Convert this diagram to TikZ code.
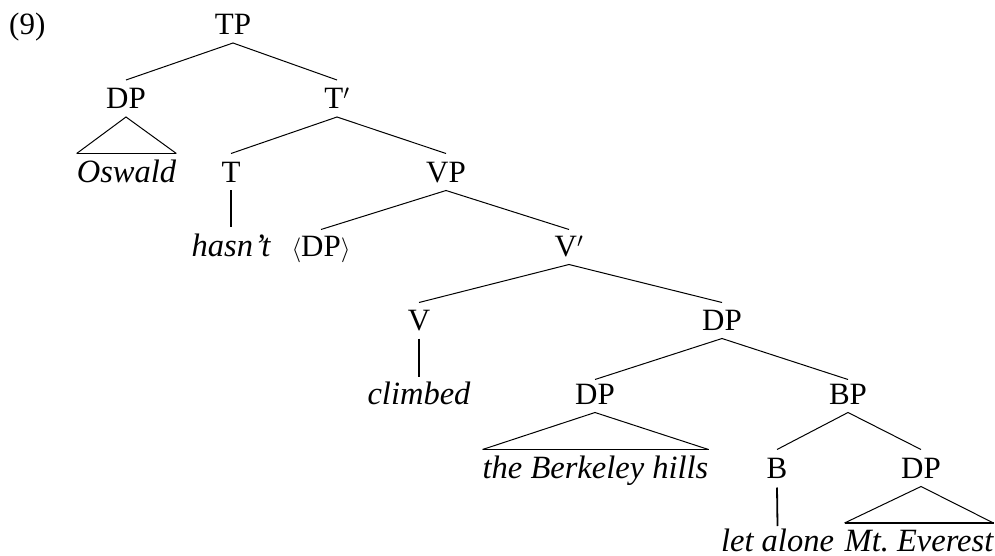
\documentclass[tikz,border=0pt]{standalone}
\usepackage{fontspec}
\setmainfont{Liberation Serif}
\begin{document}
\begin{tikzpicture}[x=1pt,y=-1pt,
  lab/.style={anchor=base,inner sep=0pt,font=\fontsize{31}{37}\selectfont},
  wd/.style={anchor=base,inner sep=0pt,font=\fontsize{32.5}{38}\selectfont\itshape},
  br/.style={line width=1pt},
  uni/.style={line width=1.8pt},
  tb/.style={line width=1.8pt}]
\useasboundingbox (0,0) rectangle (995,556);
% labels
\node[lab,anchor=base west] (ex) at (9,35) {(9)};
\node[lab] (TP) at (233,35) {TP};
\node[lab] (DPa) at (126,109) {DP};
\node[lab] (Tbar) at (337,109) {T$'$};
\node[wd] (osw) at (126.5,182.5) {Oswald};
\node[lab] (T) at (231,182.5) {T};
\node[lab] (VP) at (446,182.5) {VP};
\node[wd] (hasnt) at (231,256.5) {hasn\kern1pt’t};
\node[lab] (DPt) at (321,256.5) {$\langle$DP$\rangle$};
\node[lab] (Vbar) at (569,256.5) {V$'$};
\node[lab] (V) at (419,330.5) {V};
\node[lab] (DPb) at (722,330.5) {DP};
\node[wd] (climbed) at (419,404.5) {climbed};
\node[lab] (DPc) at (595,404.5) {DP};
\node[lab] (BP) at (848,404.5) {BP};
\node[wd] (berk) at (595.5,478.5) {the Berkeley hills};
\node[lab] (B) at (777,478.5) {B};
\node[lab] (DPd) at (921,478.5) {DP};
\node[wd] (let) at (777.5,551) {let alone};
\node[wd] (mt) at (919,551) {Mt.\ Everest};
% branches
\draw[br] ([yshift=29pt]DPa.base) -- ([yshift=-8pt]TP.base) -- ([yshift=29pt]Tbar.base);
\draw[br] ([yshift=29pt]T.base) -- ([yshift=-8pt]Tbar.base) -- ([yshift=29pt]VP.base);
\draw[br] ([yshift=27pt]DPt.base) -- ([yshift=-8pt]VP.base) -- ([yshift=27pt]Vbar.base);
\draw[br] ([yshift=28pt]V.base) -- ([yshift=-8pt]Vbar.base) -- ([yshift=28pt]DPb.base);
\draw[br] ([yshift=25pt]DPc.base) -- ([yshift=-8pt]DPb.base) -- ([yshift=25pt]BP.base);
\draw[br] ([yshift=29pt]B.base) -- ([yshift=-8pt]BP.base) -- ([yshift=29pt]DPd.base);
% unary lines
\draw[uni] ([yshift=-8pt]T.base) -- ([yshift=30pt]hasnt.base);
\draw[uni] ([yshift=-8pt]V.base) -- ([yshift=28pt]climbed.base);
\draw[uni] ([yshift=-9pt]B.base) -- ([yshift=25pt]let.base);
% triangles
\draw[br] ([yshift=29pt]osw.base west) -- ([yshift=-8pt]DPa.base) -- ([yshift=29pt]osw.base east);
\draw[tb] ([yshift=29pt]osw.base west) -- ([yshift=29pt]osw.base east);
\draw[br] ([yshift=29pt]berk.base west) -- ([yshift=-8pt]DPc.base) -- ([yshift=29pt]berk.base east);
\draw[tb] ([yshift=29pt]berk.base west) -- ([yshift=29pt]berk.base east);
\draw[br] ([yshift=28pt]mt.base west) -- ([yshift=-8pt]DPd.base) -- ([yshift=28pt]mt.base east);
\draw[tb] ([yshift=28pt]mt.base west) -- ([yshift=28pt]mt.base east);
\end{tikzpicture}
\end{document}
